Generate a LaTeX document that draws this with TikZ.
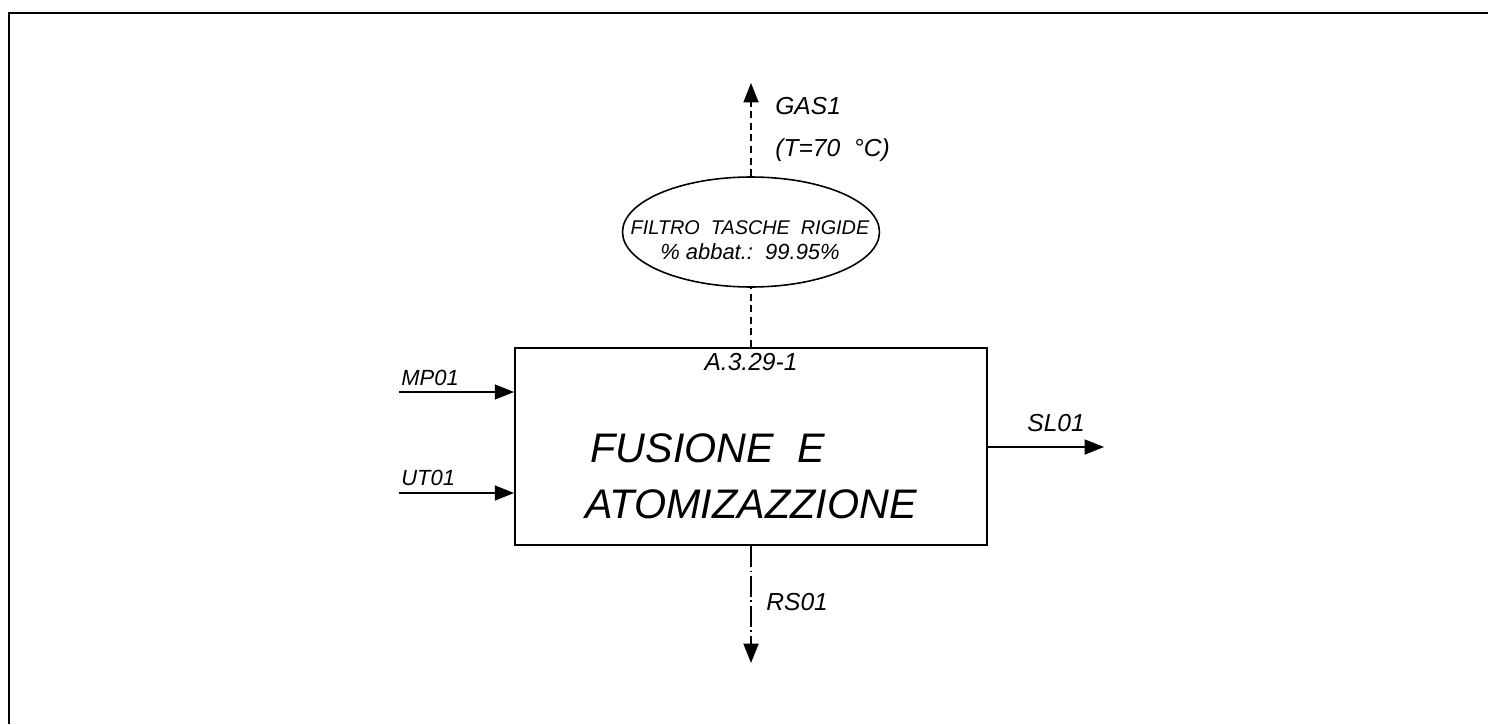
\documentclass[tikz,border=0pt]{standalone}
\usepackage{fontspec}
\setmainfont{Liberation Sans}
\usepackage{tikz}
\usetikzlibrary{arrows.meta,positioning,shapes.geometric}

\begin{document}
\begin{tikzpicture}[
    x=0.02cm,y=-0.02cm,
    every node/.style={font=\itshape\fontsize{14}{16}\selectfont,inner sep=0pt},
    blk/.style={draw,line width=1.1pt,minimum width=9.44cm,minimum height=3.94cm},
    filt/.style={draw,ellipse,line width=0.9pt,minimum width=5.14cm,minimum height=2.2cm},
    small/.style={font=\itshape\fontsize{12.5}{14}\selectfont},
    arr/.style={-{Triangle[length=11pt,width=8.5pt]},line width=1.1pt},
    dsh/.style={line width=1pt,dash pattern=on 4pt off 2.6pt},
    dshdot/.style={line width=1pt,dash pattern=on 12pt off 2pt on 1pt off 2pt},
  ]
  \useasboundingbox (0,0) rectangle (1488,724);
  % frame
  \draw[line width=1.6pt] (1488,13) -- (9,13) -- (9,724);

  \node[blk] (proc) at (751,446.5) {};
  \node[anchor=north] (code) at (751,353) {A.3.29-1};
  \node[align=left,font=\itshape\fontsize{23.5}{32}\selectfont] (title) at (751,476)
    {\hspace{3pt}FUSIONE\ \ E\\ATOMIZAZZIONE};

  \node[filt] (filtro) at (751,232) {};
  \node[align=center,font=\itshape\fontsize{11.3}{14}\selectfont] (filtxt) at (750,240)
    {FILTRO\ \ TASCHE\ \ RIGIDE\\{\fontsize{12.5}{14}\selectfont\%\ abbat.:\ \ 99.95\%}};

  % streams
  \coordinate (gas) at (751,83);
  \coordinate (mp) at (399,392);
  \coordinate (ut) at (399,493);
  \coordinate (sl) at (1104,447);
  \coordinate (rs) at (751,663);
  \draw[dsh] (proc.north) -- (filtro.south);
  \draw[dsh,arr,dash pattern=on 4pt off 2.6pt] (filtro.north) -- (gas);
  \draw[arr] (mp) -- (mp -| proc.west);
  \draw[arr] (ut) -- (ut -| proc.west);
  \draw[arr] (proc.east |- sl) -- (sl);
  \draw[dshdot,arr,dash pattern=on 12pt off 2pt on 1pt off 2pt] (proc.south) -- (rs);

  \node[anchor=base west,small] (mplbl) at (401,385) {MP01};
  \node[anchor=base west,small] (utlbl) at (401,485) {UT01};
  \node[anchor=base west] (sllbl) at (1027,431) {SL01};
  \node[anchor=base west] (rslbl) at (766,610) {RS01};
  \node[anchor=base west,align=left,font=\itshape\fontsize{14}{23.5}\selectfont] (gaslbl) at (775,156)
    {GAS1\\(T=70\ \ °C)};
\end{tikzpicture}
\end{document}
